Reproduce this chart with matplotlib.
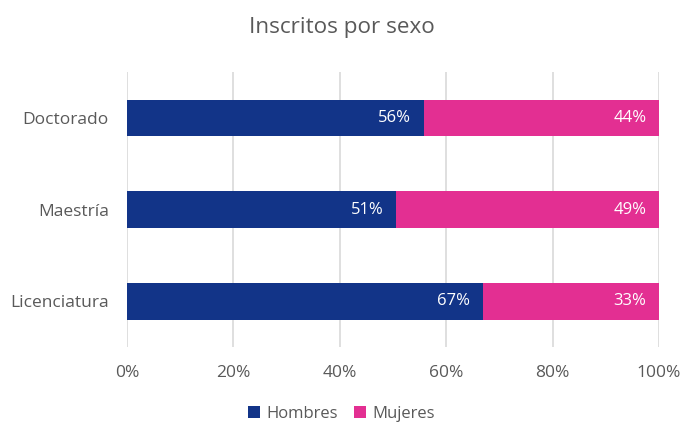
import matplotlib
matplotlib.use("Agg")
import matplotlib.pyplot as plt
from matplotlib.ticker import FuncFormatter

categories = ["Licenciatura", "Maestría", "Doctorado"]
hombres = [66.9, 50.6, 55.8]
mujeres = [33.1, 49.4, 44.2]
series_names = ["Hombres", "Mujeres"]
xticks = [0, 20, 40, 60, 80, 100]

c_h = "#123488"
c_m = "#E32F92"
gray = "#595959"

plt.rcParams['font.family'] = ['Open Sans', 'DejaVu Sans']

fig = plt.figure(figsize=(6.83, 4.26), dpi=100)
ax = fig.add_axes([127/683, 1-347/426, 532/683, 275/426])

y = list(range(len(categories)))
b1 = ax.barh(y, hombres, height=0.4, color=c_h, label=series_names[0], zorder=3)
b2 = ax.barh(y, mujeres, left=hombres, height=0.4, color=c_m, label=series_names[1], zorder=3)

for i in y:
    ax.annotate(f"{hombres[i]:.0f}%", (hombres[i], i), xytext=(-9, 0), textcoords="offset points",
                ha="right", va="center", color="white", fontsize=12, zorder=4)
    ax.annotate(f"{mujeres[i]:.0f}%", (hombres[i] + mujeres[i], i), xytext=(-9, 0), textcoords="offset points",
                ha="right", va="center", color="white", fontsize=12, zorder=4)

ax.set_xlim(0, 100)
ax.set_ylim(-0.5, 2.5)
ax.set_xticks(xticks)
ax.xaxis.set_major_formatter(FuncFormatter(lambda v, p: f"{v:.0f}%"))
ax.set_yticks(y)
ax.set_yticklabels(categories)
ax.tick_params(axis="both", length=0, colors=gray, labelsize=12.5)
ax.tick_params(axis="x", pad=13)
ax.tick_params(axis="y", pad=13)
ax.grid(axis="x", color="#D9D9D9", linewidth=1.2, zorder=0)
for s in ax.spines.values():
    s.set_visible(False)

fig.text(0.5, 1-28/426, "Inscritos por sexo", ha="center", va="center", fontsize=16.2, color=gray)
fig.legend(handles=[b1, b2], loc="center", bbox_to_anchor=(0.5, 1-414/426), ncol=2, frameon=False,
           fontsize=12, labelcolor=gray, handlelength=0.7, handleheight=0.7, handletextpad=0.4,
           columnspacing=1.0)

fig.savefig("out.png", dpi=100)
